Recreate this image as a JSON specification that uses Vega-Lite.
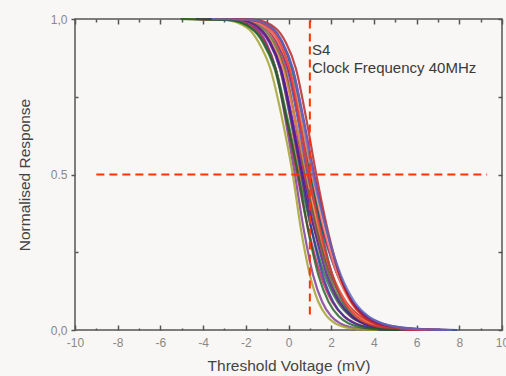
{
  "$schema": "https://vega.github.io/schema/vega-lite/v6.json",
  "width": 427,
  "height": 311,
  "autosize": "none",
  "padding": {"left": 75, "top": 19, "right": 4, "bottom": 46},
  "background": "#f8f7f5",
  "config": {
    "view": {"stroke": "#555555", "strokeWidth": 1.5, "fill": "#f8f7f5"},
    "font": "Liberation Sans"
  },
  "datasets": {
    "curves": [
      {"c":1,"v":-4.2,"r":1.0},{"c":1,"v":-2.4,"r":0.997},{"c":1,"v":-1.5,"r":0.97},{"c":1,"v":-1.05,"r":0.925},{"c":1,"v":-0.6,"r":0.84},{"c":1,"v":-0.15,"r":0.68},{"c":1,"v":0.3,"r":0.5},{"c":1,"v":0.73,"r":0.317},{"c":1,"v":1.15,"r":0.177},{"c":1,"v":1.58,"r":0.09},{"c":1,"v":2.0,"r":0.044},{"c":1,"v":2.43,"r":0.021},{"c":1,"v":2.85,"r":0.01},{"c":1,"v":3.7,"r":0.002},{"c":1,"v":4.55,"r":0.0},
      {"c":2,"v":-4.6,"r":1.0},{"c":2,"v":-2.6,"r":0.997},{"c":2,"v":-1.6,"r":0.97},{"c":2,"v":-1.1,"r":0.925},{"c":2,"v":-0.6,"r":0.84},{"c":2,"v":-0.1,"r":0.68},{"c":2,"v":0.4,"r":0.5},{"c":2,"v":0.95,"r":0.317},{"c":2,"v":1.5,"r":0.177},{"c":2,"v":2.05,"r":0.09},{"c":2,"v":2.6,"r":0.044},{"c":2,"v":3.15,"r":0.021},{"c":2,"v":3.7,"r":0.01},{"c":2,"v":4.8,"r":0.002},{"c":2,"v":5.9,"r":0.0},
      {"c":3,"v":-5.0,"r":1.0},{"c":3,"v":-2.8,"r":0.997},{"c":3,"v":-1.7,"r":0.97},{"c":3,"v":-1.15,"r":0.925},{"c":3,"v":-0.6,"r":0.84},{"c":3,"v":-0.05,"r":0.68},{"c":3,"v":0.5,"r":0.5},{"c":3,"v":1.1,"r":0.317},{"c":3,"v":1.7,"r":0.177},{"c":3,"v":2.3,"r":0.09},{"c":3,"v":2.9,"r":0.044},{"c":3,"v":3.5,"r":0.021},{"c":3,"v":4.1,"r":0.01},{"c":3,"v":5.3,"r":0.002},{"c":3,"v":6.5,"r":0.0},
      {"c":4,"v":-4.2,"r":1.0},{"c":4,"v":-2.3,"r":0.997},{"c":4,"v":-1.35,"r":0.97},{"c":4,"v":-0.88,"r":0.925},{"c":4,"v":-0.4,"r":0.84},{"c":4,"v":0.08,"r":0.68},{"c":4,"v":0.55,"r":0.5},{"c":4,"v":1.25,"r":0.317},{"c":4,"v":1.95,"r":0.177},{"c":4,"v":2.65,"r":0.09},{"c":4,"v":3.35,"r":0.044},{"c":4,"v":4.05,"r":0.021},{"c":4,"v":4.75,"r":0.01},{"c":4,"v":6.15,"r":0.002},{"c":4,"v":7.55,"r":0.0},
      {"c":5,"v":-4.4,"r":1.0},{"c":5,"v":-2.4,"r":0.997},{"c":5,"v":-1.4,"r":0.97},{"c":5,"v":-0.9,"r":0.925},{"c":5,"v":-0.4,"r":0.84},{"c":5,"v":0.1,"r":0.68},{"c":5,"v":0.6,"r":0.5},{"c":5,"v":1.1,"r":0.317},{"c":5,"v":1.6,"r":0.177},{"c":5,"v":2.1,"r":0.09},{"c":5,"v":2.6,"r":0.044},{"c":5,"v":3.1,"r":0.021},{"c":5,"v":3.6,"r":0.01},{"c":5,"v":4.6,"r":0.002},{"c":5,"v":5.6,"r":0.0},
      {"c":6,"v":-4.55,"r":1.0},{"c":6,"v":-2.45,"r":0.997},{"c":6,"v":-1.4,"r":0.97},{"c":6,"v":-0.88,"r":0.925},{"c":6,"v":-0.35,"r":0.84},{"c":6,"v":0.18,"r":0.68},{"c":6,"v":0.7,"r":0.5},{"c":6,"v":1.35,"r":0.317},{"c":6,"v":2.0,"r":0.177},{"c":6,"v":2.65,"r":0.09},{"c":6,"v":3.3,"r":0.044},{"c":6,"v":3.95,"r":0.021},{"c":6,"v":4.6,"r":0.01},{"c":6,"v":5.9,"r":0.002},{"c":6,"v":7.2,"r":0.0},
      {"c":7,"v":-3.75,"r":1.0},{"c":7,"v":-1.95,"r":0.997},{"c":7,"v":-1.05,"r":0.97},{"c":7,"v":-0.6,"r":0.925},{"c":7,"v":-0.15,"r":0.84},{"c":7,"v":0.3,"r":0.68},{"c":7,"v":0.75,"r":0.5},{"c":7,"v":1.4,"r":0.317},{"c":7,"v":2.05,"r":0.177},{"c":7,"v":2.7,"r":0.09},{"c":7,"v":3.35,"r":0.044},{"c":7,"v":4.0,"r":0.021},{"c":7,"v":4.65,"r":0.01},{"c":7,"v":5.95,"r":0.002},{"c":7,"v":7.25,"r":0.0},
      {"c":8,"v":-4.2,"r":1.0},{"c":8,"v":-2.2,"r":0.997},{"c":8,"v":-1.2,"r":0.97},{"c":8,"v":-0.7,"r":0.925},{"c":8,"v":-0.2,"r":0.84},{"c":8,"v":0.3,"r":0.68},{"c":8,"v":0.8,"r":0.5},{"c":8,"v":1.35,"r":0.317},{"c":8,"v":1.9,"r":0.177},{"c":8,"v":2.45,"r":0.09},{"c":8,"v":3.0,"r":0.044},{"c":8,"v":3.55,"r":0.021},{"c":8,"v":4.1,"r":0.01},{"c":8,"v":5.2,"r":0.002},{"c":8,"v":6.3,"r":0.0},
      {"c":9,"v":-4.65,"r":1.0},{"c":9,"v":-2.45,"r":0.997},{"c":9,"v":-1.35,"r":0.97},{"c":9,"v":-0.8,"r":0.925},{"c":9,"v":-0.25,"r":0.84},{"c":9,"v":0.3,"r":0.68},{"c":9,"v":0.85,"r":0.5},{"c":9,"v":1.45,"r":0.317},{"c":9,"v":2.05,"r":0.177},{"c":9,"v":2.65,"r":0.09},{"c":9,"v":3.25,"r":0.044},{"c":9,"v":3.85,"r":0.021},{"c":9,"v":4.45,"r":0.01},{"c":9,"v":5.65,"r":0.002},{"c":9,"v":6.85,"r":0.0},
      {"c":10,"v":-3.85,"r":1.0},{"c":10,"v":-1.95,"r":0.997},{"c":10,"v":-1.0,"r":0.97},{"c":10,"v":-0.53,"r":0.925},{"c":10,"v":-0.05,"r":0.84},{"c":10,"v":0.43,"r":0.68},{"c":10,"v":0.9,"r":0.5},{"c":10,"v":1.6,"r":0.317},{"c":10,"v":2.3,"r":0.177},{"c":10,"v":3.0,"r":0.09},{"c":10,"v":3.7,"r":0.044},{"c":10,"v":4.4,"r":0.021},{"c":10,"v":5.1,"r":0.01},{"c":10,"v":6.5,"r":0.002},{"c":10,"v":7.9,"r":0.0},
      {"c":11,"v":-4.0,"r":1.0},{"c":11,"v":-2.0,"r":0.997},{"c":11,"v":-1.0,"r":0.97},{"c":11,"v":-0.5,"r":0.925},{"c":11,"v":0.0,"r":0.84},{"c":11,"v":0.5,"r":0.68},{"c":11,"v":1.0,"r":0.5},{"c":11,"v":1.65,"r":0.317},{"c":11,"v":2.3,"r":0.177},{"c":11,"v":2.95,"r":0.09},{"c":11,"v":3.6,"r":0.044},{"c":11,"v":4.25,"r":0.021},{"c":11,"v":4.9,"r":0.01},{"c":11,"v":6.2,"r":0.002},{"c":11,"v":7.5,"r":0.0},
      {"c":12,"v":-3.45,"r":1.0},{"c":12,"v":-1.65,"r":0.997},{"c":12,"v":-0.75,"r":0.97},{"c":12,"v":-0.3,"r":0.925},{"c":12,"v":0.15,"r":0.84},{"c":12,"v":0.6,"r":0.68},{"c":12,"v":1.05,"r":0.5},{"c":12,"v":1.55,"r":0.317},{"c":12,"v":2.05,"r":0.177},{"c":12,"v":2.55,"r":0.09},{"c":12,"v":3.05,"r":0.044},{"c":12,"v":3.55,"r":0.021},{"c":12,"v":4.05,"r":0.01},{"c":12,"v":5.05,"r":0.002},{"c":12,"v":6.05,"r":0.0},
      {"c":13,"v":-4.15,"r":1.0},{"c":13,"v":-2.05,"r":0.997},{"c":13,"v":-1.0,"r":0.97},{"c":13,"v":-0.48,"r":0.925},{"c":13,"v":0.05,"r":0.84},{"c":13,"v":0.58,"r":0.68},{"c":13,"v":1.1,"r":0.5},{"c":13,"v":1.7,"r":0.317},{"c":13,"v":2.3,"r":0.177},{"c":13,"v":2.9,"r":0.09},{"c":13,"v":3.5,"r":0.044},{"c":13,"v":4.1,"r":0.021},{"c":13,"v":4.7,"r":0.01},{"c":13,"v":5.9,"r":0.002},{"c":13,"v":7.1,"r":0.0},
      {"c":14,"v":-3.8,"r":1.0},{"c":14,"v":-1.8,"r":0.997},{"c":14,"v":-0.8,"r":0.97},{"c":14,"v":-0.3,"r":0.925},{"c":14,"v":0.2,"r":0.84},{"c":14,"v":0.7,"r":0.68},{"c":14,"v":1.2,"r":0.5},{"c":14,"v":1.8,"r":0.317},{"c":14,"v":2.4,"r":0.177},{"c":14,"v":3.0,"r":0.09},{"c":14,"v":3.6,"r":0.044},{"c":14,"v":4.2,"r":0.021},{"c":14,"v":4.8,"r":0.01},{"c":14,"v":6.0,"r":0.002},{"c":14,"v":7.2,"r":0.0},
      {"c":15,"v":-3.45,"r":1.0},{"c":15,"v":-1.55,"r":0.997},{"c":15,"v":-0.6,"r":0.97},{"c":15,"v":-0.13,"r":0.925},{"c":15,"v":0.35,"r":0.84},{"c":15,"v":0.83,"r":0.68},{"c":15,"v":1.3,"r":0.5},{"c":15,"v":1.85,"r":0.317},{"c":15,"v":2.4,"r":0.177},{"c":15,"v":2.95,"r":0.09},{"c":15,"v":3.5,"r":0.044},{"c":15,"v":4.05,"r":0.021},{"c":15,"v":4.6,"r":0.01},{"c":15,"v":5.7,"r":0.002},{"c":15,"v":6.8,"r":0.0},
      {"c":16,"v":-5.0,"r":1.0},{"c":16,"v":-3.0,"r":0.997},{"c":16,"v":-1.9,"r":0.97},{"c":16,"v":-1.4,"r":0.925},{"c":16,"v":-0.85,"r":0.84},{"c":16,"v":-0.3,"r":0.68},{"c":16,"v":0.2,"r":0.5},{"c":16,"v":0.6,"r":0.317},{"c":16,"v":1.0,"r":0.177},{"c":16,"v":1.4,"r":0.09},{"c":16,"v":1.8,"r":0.044},{"c":16,"v":2.2,"r":0.021},{"c":16,"v":2.6,"r":0.01},{"c":16,"v":3.4,"r":0.002},{"c":16,"v":4.2,"r":0.0},
      {"c":17,"v":-4.35,"r":1.0},{"c":17,"v":-2.35,"r":0.997},{"c":17,"v":-1.35,"r":0.97},{"c":17,"v":-0.85,"r":0.925},{"c":17,"v":-0.35,"r":0.84},{"c":17,"v":0.15,"r":0.68},{"c":17,"v":0.65,"r":0.5},{"c":17,"v":1.23,"r":0.317},{"c":17,"v":1.8,"r":0.177},{"c":17,"v":2.38,"r":0.09},{"c":17,"v":2.95,"r":0.044},{"c":17,"v":3.53,"r":0.021},{"c":17,"v":4.1,"r":0.01},{"c":17,"v":5.25,"r":0.002},{"c":17,"v":6.4,"r":0.0},
      {"c":18,"v":-3.55,"r":1.0},{"c":18,"v":-1.75,"r":0.997},{"c":18,"v":-0.85,"r":0.97},{"c":18,"v":-0.4,"r":0.925},{"c":18,"v":0.05,"r":0.84},{"c":18,"v":0.5,"r":0.68},{"c":18,"v":0.95,"r":0.5},{"c":18,"v":1.5,"r":0.317},{"c":18,"v":2.05,"r":0.177},{"c":18,"v":2.6,"r":0.09},{"c":18,"v":3.15,"r":0.044},{"c":18,"v":3.7,"r":0.021},{"c":18,"v":4.25,"r":0.01},{"c":18,"v":5.35,"r":0.002},{"c":18,"v":6.45,"r":0.0},
      {"c":19,"v":-5.05,"r":1.0},{"c":19,"v":-2.85,"r":0.997},{"c":19,"v":-1.75,"r":0.97},{"c":19,"v":-1.2,"r":0.925},{"c":19,"v":-0.65,"r":0.84},{"c":19,"v":-0.1,"r":0.68},{"c":19,"v":0.45,"r":0.5},{"c":19,"v":0.93,"r":0.317},{"c":19,"v":1.4,"r":0.177},{"c":19,"v":1.88,"r":0.09},{"c":19,"v":2.35,"r":0.044},{"c":19,"v":2.83,"r":0.021},{"c":19,"v":3.3,"r":0.01},{"c":19,"v":4.25,"r":0.002},{"c":19,"v":5.2,"r":0.0},
      {"c":20,"v":-3.6,"r":1.0},{"c":20,"v":-1.7,"r":0.997},{"c":20,"v":-0.75,"r":0.97},{"c":20,"v":-0.28,"r":0.925},{"c":20,"v":0.2,"r":0.84},{"c":20,"v":0.68,"r":0.68},{"c":20,"v":1.15,"r":0.5},{"c":20,"v":1.8,"r":0.317},{"c":20,"v":2.45,"r":0.177},{"c":20,"v":3.1,"r":0.09},{"c":20,"v":3.75,"r":0.044},{"c":20,"v":4.4,"r":0.021},{"c":20,"v":5.05,"r":0.01},{"c":20,"v":6.35,"r":0.002},{"c":20,"v":7.65,"r":0.0}
    ]
  },
  "layer": [
    {
      "data": {"name": "curves"},
      "mark": {"type": "line", "interpolate": "monotone", "strokeWidth": 2.2, "opacity": 0.8},
      "encoding": {
        "x": {
          "field": "v", "type": "quantitative",
          "scale": {"domain": [-10, 10], "nice": false},
          "axis": {
            "orient": "bottom",
            "values": [-10,-9,-8,-7,-6,-5,-4,-3,-2,-1,0,1,2,3,4,5,6,7,8,9,10],
            "labelExpr": "datum.value % 2 === 0 ? '' + datum.value : ''",
            "domain": false, "grid": false,
            "tickColor": "#555555", "tickWidth": 1.5,
            "tickSize": {"condition": {"test": "datum.value % 2 === 0", "value": -5}, "value": -2},
            "labelColor": "#888888", "labelFontSize": 12, "labelPadding": 12,
            "labelFlush": false,
            "title": "Threshold Voltage (mV)", "titleColor": "#444444",
            "titleFontSize": 15.5, "titleFontWeight": "normal", "titlePadding": 10
          }
        },
        "y": {
          "field": "r", "type": "quantitative",
          "scale": {"domain": [0, 1], "nice": false},
          "axis": {
            "orient": "left",
            "values": [0, 0.25, 0.5, 0.75, 1],
            "labelExpr": "datum.value === 1 ? '1,0' : datum.value === 0 ? '0,0' : datum.value === 0.5 ? '0.5' : ''",
            "domain": false, "grid": false,
            "tickColor": "#555555", "tickWidth": 1.5,
            "tickSize": {"condition": {"test": "datum.value === 0.25 || datum.value === 0.75", "value": -3}, "value": 4},
            "labelColor": "#888888", "labelFontSize": 12, "labelPadding": 4,
            "labelFlush": false,
            "title": "Normalised Response", "titleColor": "#444444",
            "titleFontSize": 15.5, "titleFontWeight": "normal", "titlePadding": 18
          }
        },
        "color": {
          "field": "c", "type": "nominal", "legend": null,
          "scale": {"range": ["#7b3294", "#c2185b", "#2e6b3a", "#e8743b", "#283593", "#8e24aa", "#d32f2f", "#556b2f", "#f08a4b", "#3949ab", "#ad1457", "#00695c", "#ff8a65", "#6a1b9a", "#b71c1c", "#9e9d24", "#4a148c", "#e53935", "#1b5e20", "#5c6bc0"]}
        }
      }
    },
    {
      "data": {"values": [{"x1": -9, "x2": 9.3, "y": 0.5}]},
      "mark": {"type": "rule", "color": "#ff3300", "strokeWidth": 2, "strokeDash": [8, 5]},
      "encoding": {
        "x": {
          "field": "x1", "type": "quantitative",
          "scale": {"domain": [-10, 10], "nice": false},
          "axis": {
            "orient": "top", "title": null, "labels": false, "domain": false, "grid": false,
            "values": [-10,-9,-8,-7,-6,-5,-4,-3,-2,-1,0,1,2,3,4,5,6,7,8,9,10],
            "tickColor": "#555555", "tickWidth": 1.5,
            "tickSize": {"condition": {"test": "datum.value % 2 === 0", "value": -5}, "value": -3}
          }
        },
        "x2": {"field": "x2"},
        "y": {
          "field": "y", "type": "quantitative",
          "scale": {"domain": [0, 1], "nice": false},
          "axis": {
            "orient": "right", "title": null, "labels": false, "domain": false, "grid": false,
            "values": [0, 0.25, 0.5, 0.75, 1],
            "tickColor": "#555555", "tickWidth": 1.5, "tickSize": -4
          }
        }
      }
    },
    {
      "data": {"values": [{"x": 1, "y1": 0.05, "y2": 1}]},
      "mark": {"type": "rule", "color": "#ff3300", "strokeWidth": 2, "strokeDash": [8, 5]},
      "encoding": {
        "x": {"field": "x", "type": "quantitative", "axis": null},
        "y": {"field": "y1", "type": "quantitative", "axis": null},
        "y2": {"field": "y2"}
      }
    },
    {
      "data": {"values": [{"x": 1.1, "y": 0.9, "t": "S4"}, {"x": 1.1, "y": 0.842, "t": "Clock Frequency 40MHz"}]},
      "mark": {"type": "text", "align": "left", "baseline": "middle", "fontSize": 15, "color": "#3a3a3a", "font": "Liberation Sans"},
      "encoding": {
        "x": {"field": "x", "type": "quantitative", "axis": null},
        "y": {"field": "y", "type": "quantitative", "axis": null},
        "text": {"field": "t"}
      }
    }
  ],
  "resolve": {"axis": {"x": "independent", "y": "independent"}}
}
